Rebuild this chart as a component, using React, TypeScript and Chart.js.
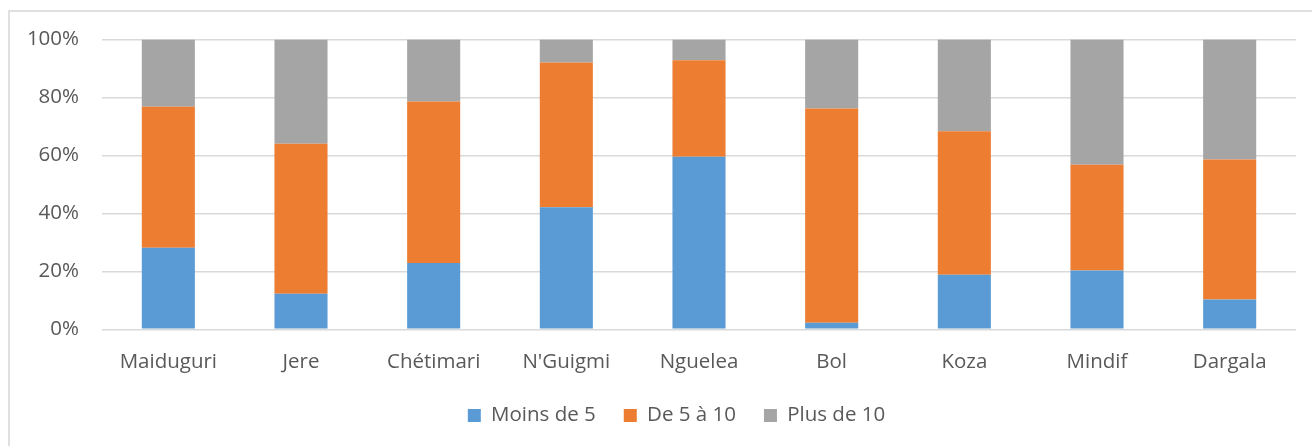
import React, { useEffect, useRef } from "react";
import { Chart, registerables } from "chart.js";

Chart.register(...registerables);

const categories = ["Maiduguri", "Jere", "Chétimari", "N'Guigmi", "Nguelea", "Bol", "Koza", "Mindif", "Dargala"];
const moinsDe5 = [28.1, 12.3, 22.9, 42.1, 59.5, 2.3, 18.8, 20.3, 10.3];
const de5a10 = [48.7, 51.7, 55.7, 50.0, 33.3, 73.9, 49.5, 36.5, 48.3];
const plusDe10 = [23.2, 36.0, 21.4, 7.9, 7.2, 23.8, 31.7, 43.2, 41.4];
const seriesNames = ["Moins de 5", "De 5 à 10", "Plus de 10"];
const yTicks = [0, 20, 40, 60, 80, 100];

const FONT = "'Open Sans', 'DejaVu Sans', sans-serif";
const TEXT = "#595959";

const legendShift = {
  id: "legendShift",
  afterLayout(chart: any) {
    if (chart.legend) {
      chart.legend.left += 57;
    }
  },
};

export default function App() {
  const ref = useRef<HTMLCanvasElement | null>(null);

  useEffect(() => {
    if (!ref.current) return;
    const chart = new Chart(ref.current, {
      type: "bar",
      data: {
        labels: categories,
        datasets: [
          { label: seriesNames[0], data: moinsDe5, backgroundColor: "#5B9BD5" },
          { label: seriesNames[1], data: de5a10, backgroundColor: "#ED7D31" },
          { label: seriesNames[2], data: plusDe10, backgroundColor: "#A5A5A5" },
        ],
      },
      plugins: [legendShift],
      options: {
        animation: false,
        responsive: true,
        maintainAspectRatio: false,
        datasets: { bar: { categoryPercentage: 1, barPercentage: 0.4 } },
        layout: { padding: { left: 0, right: 16, top: 39.5, bottom: 10.25 } },
        plugins: {
          tooltip: { enabled: false },
          legend: {
            position: "bottom",
            labels: {
              boxWidth: 13,
              boxHeight: 13,
              padding: 28,
              color: TEXT,
              font: { family: FONT, size: 20.5 },
            },
          },
        },
        scales: {
          x: {
            stacked: true,
            grid: { display: false, drawTicks: false },
            border: { display: false },
            ticks: { color: TEXT, padding: 20.4, font: { family: FONT, size: 20.5 }, maxRotation: 0 },
            afterFit: (s: any) => { s.height = 47.95; },
          },
          y: {
            stacked: true,
            min: 0,
            max: 100,
            afterBuildTicks: (s: any) => { s.ticks = yTicks.map((v) => ({ value: v })); },
            grid: { color: "#d9d9d9", lineWidth: 1.5, drawTicks: false },
            border: { display: false },
            ticks: {
              color: TEXT,
              padding: 23,
              font: { family: FONT, size: 20.5 },
              callback: (v: any) => v + "%",
            },
            afterFit: (s: any) => { s.width = 102; },
          },
        },
      },
    });
    return () => chart.destroy();
  }, []);

  return (
    <div style={{ position: "absolute", left: 0, top: 0, width: 1312, height: 446, background: "#fff", overflow: "hidden" }}>
      <div
        style={{
          position: "absolute",
          left: 8,
          top: 10,
          width: 1320,
          height: 450,
          borderLeft: "2px solid #e0e0e0",
          borderTop: "2px solid #e0e0e0",
        }}
      />
      <canvas ref={ref} style={{ position: "absolute", left: 0, top: 0, width: 1312, height: 446 }} />
    </div>
  );
}
